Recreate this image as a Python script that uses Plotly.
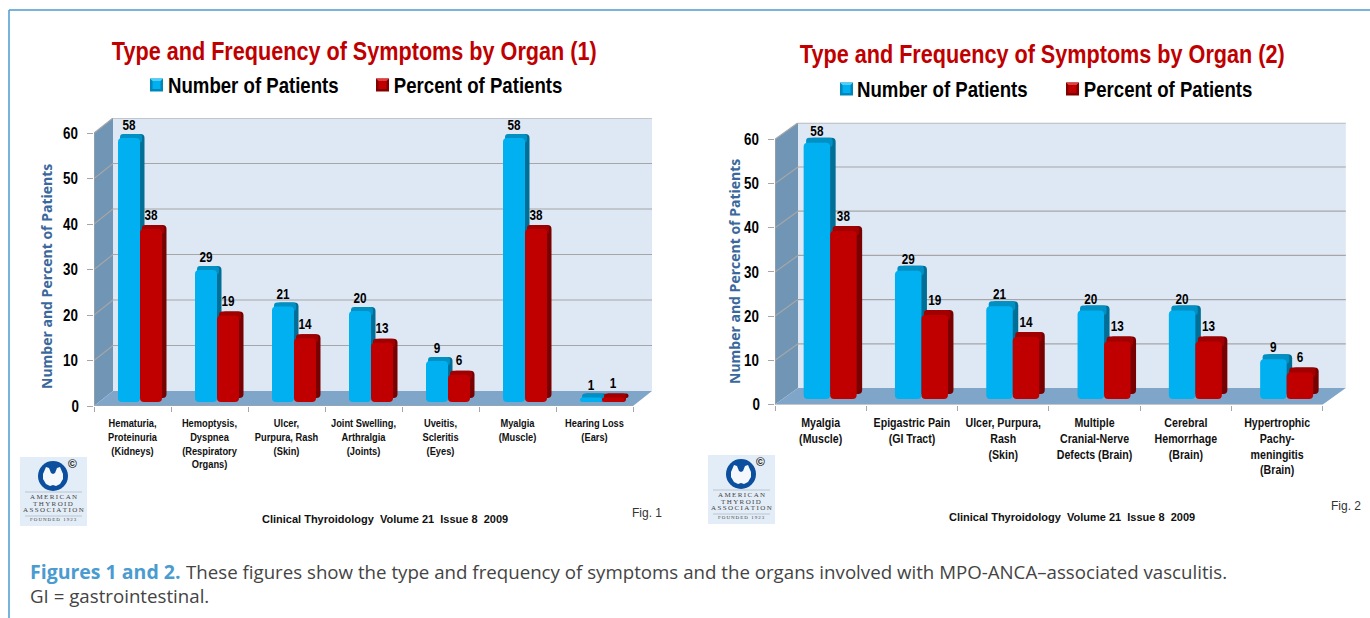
import plotly.graph_objects as go

W = 1370
H = 618

NARROW = "Liberation Sans Narrow, Liberation Sans, Arial, sans-serif"
SANS = "Liberation Sans, Arial, sans-serif"
OPEN = "Open Sans, sans-serif"

categories_1 = ["Hematuria,<br>Proteinuria<br>(Kidneys)", "Hemoptysis,<br>Dyspnea<br>(Respiratory<br>Organs)",
                "Ulcer,<br>Purpura, Rash<br>(Skin)", "Joint Swelling,<br>Arthralgia<br>(Joints)",
                "Uveitis,<br>Scleritis<br>(Eyes)", "Myalgia<br>(Muscle)", "Hearing Loss<br>(Ears)"]
number_1 = [58, 29, 21, 20, 9, 58, 1]
percent_1 = [38, 19, 14, 13, 6, 38, 1]

categories_2 = ["Myalgia<br>(Muscle)", "Epigastric Pain<br>(GI Tract)", "Ulcer, Purpura,<br>Rash<br>(Skin)",
                "Multiple<br>Cranial-Nerve<br>Defects (Brain)", "Cerebral<br>Hemorrhage<br>(Brain)",
                "Hypertrophic<br>Pachy-<br>meningitis<br>(Brain)"]
number_2 = [58, 29, 21, 20, 20, 9]
percent_2 = [38, 19, 14, 13, 13, 6]

y_ticks = [0, 10, 20, 30, 40, 50, 60]

BLUE = "#00B0F0"
BLUE_SIDE = "#006F98"
BLUE_CAP = "#0090C4"
RED = "#C00000"
RED_SIDE = "#780000"
RED_CAP = "#A00000"
GRID = "#A6A6A6"

fig = go.Figure()
shapes = []
annotations = []


def px(x):
    return x / W


def py(y):
    return 1 - y / H


def note(x, y, text, size, color="black", family=NARROW, xanchor="center", yanchor="middle", angle=0):
    annotations.append(dict(xref="paper", yref="paper", x=px(x), y=py(y), text=text, showarrow=False,
                            xanchor=xanchor, yanchor=yanchor, textangle=angle, align="left",
                            font=dict(size=size, color=color, family=family)))


def draw_panel(suffix, cats, number, percent, left, cat_w, y0, unit, depth_x, depth_y, bar_w, bar_shift,
               bar_lift, side_x, side_y, label_size, label_drop):
    n = len(cats)
    xref = "x" + suffix
    yref = "y" + suffix
    dx = depth_x / cat_w
    dy = depth_y / unit
    base = bar_lift / unit
    w = bar_w / cat_w
    sx = side_x / cat_w
    sy = side_y / unit
    start = bar_shift / cat_w - w
    right = left + n * cat_w + depth_x + 3
    top = y0 - 60 * unit - depth_y
    xs = [i + 0.5 for i in range(n)]

    def poly(points, fill):
        path = "M " + " L ".join(f"{a},{b}" for a, b in points) + " Z"
        shapes.append(dict(type="path", path=path, xref=xref, yref=yref, fillcolor=fill,
                           line=dict(width=0), layer="below"))

    def seg(a, b, c, d, color=GRID, width=1.2):
        shapes.append(dict(type="line", x0=a, y0=b, x1=c, y1=d, xref=xref, yref=yref,
                           line=dict(color=color, width=width), layer="below"))

    # back wall, side wall and floor
    poly([(dx, dy), (n + dx, dy), (n + dx, 60 + dy), (dx, 60 + dy)], "#DEE8F5")
    poly([(0, 0), (0, 60), (dx, 60 + dy), (dx, dy)], "#7095B5")
    poly([(0, 0), (n, 0), (n + dx, dy), (dx, dy)], "#7FA6C8")
    for t in y_ticks[1:]:
        seg(dx, t + dy, n + dx, t + dy)
        seg(0, t, dx, t + dy)
    seg(0, 0, n, 0)
    seg(0, 0, 0, 60)

    for values, start_x, front, side, cap, raise_by in [(number, start, BLUE, BLUE_SIDE, BLUE_CAP, -label_drop),
                                                        (percent, start + w, RED, RED_SIDE, RED_CAP, 0.4)]:
        common = dict(x=xs, width=w, xaxis=xref, yaxis=yref, showlegend=False, hoverinfo="skip")
        fig.add_trace(go.Bar(y=values, base=[base + sy] * n, offset=start_x + sx,
                             marker=dict(color=side, cornerradius=4, line=dict(width=0)), **common))
        fig.add_trace(go.Bar(y=[sy + 1.0] * n, base=[v + base - 1.0 for v in values], offset=start_x + sx * 0.45,
                             marker=dict(color=cap, cornerradius=3, line=dict(width=0)), **common))
        fig.add_trace(go.Bar(y=values, base=[base] * n, offset=start_x,
                             marker=dict(color=front, cornerradius=4, line=dict(width=0)), **common))
        fig.add_trace(go.Scatter(x=[a + start_x + w / 2 for a in xs], y=[v + base + sy + raise_by for v in values],
                                 text=[str(v) for v in values], mode="text", textposition="top center",
                                 textfont=dict(size=14.5, color="black", family=NARROW, weight="bold"),
                                 xaxis=xref, yaxis=yref, showlegend=False, hoverinfo="skip", cliponaxis=False))

    fig.update_layout({
        "xaxis" + suffix: dict(domain=[px(left), px(right)], range=[0, (right - left) / cat_w], tickmode="array",
                               tickvals=xs, ticktext=cats, ticks="", ticklabelstandoff=10, showgrid=False,
                               zeroline=False, tickangle=0, automargin=False,
                               tickfont=dict(size=label_size, color="#111111", family=NARROW, weight="bold"),
                               minor=dict(tickmode="array", tickvals=list(range(n + 1)), ticks="outside",
                                          ticklen=5, tickcolor=GRID, showgrid=False),
                               anchor=yref),
        "yaxis" + suffix: dict(domain=[py(y0), py(top)], range=[0, (y0 - top) / unit], tickmode="array",
                               tickvals=y_ticks, ticks="outside", ticklen=6, tickcolor=GRID, showgrid=False,
                               zeroline=False, showline=False, ticklabelstandoff=4, automargin=False,
                               tickfont=dict(size=16.5, color="black", family=NARROW, weight="bold"), anchor=xref),
    })


def legend_swatch(x, y, color, dark, light):
    shapes.append(dict(type="rect", xref="paper", yref="paper", x0=px(x), x1=px(x + 13), y0=py(y + 6.5), y1=py(y - 6.5),
                       fillcolor=dark, line=dict(width=0)))
    shapes.append(dict(type="rect", xref="paper", yref="paper", x0=px(x + 2.5), x1=px(x + 10.5), y0=py(y + 4),
                       y1=py(y - 4), fillcolor=color, line=dict(width=0)))
    shapes.append(dict(type="path", xref="paper", yref="paper", fillcolor=light, line=dict(width=0),
                       path=f"M {px(x)},{py(y - 6.5)} L {px(x + 13)},{py(y - 6.5)} L {px(x + 10.5)},{py(y - 4)} "
                            f"L {px(x + 2.5)},{py(y - 4)} Z"))


def draw_logo(x, y):
    # small society badge under each chart, built from vector pieces
    shapes.append(dict(type="rect", xref="paper", yref="paper", x0=px(x), x1=px(x + 67), y0=py(y + 69), y1=py(y),
                       fillcolor="#E3EDF7", line=dict(width=0), layer="below"))
    cx = x + 33
    cy = y + 19
    shapes.append(dict(type="circle", xref="paper", yref="paper", x0=px(cx - 15), x1=px(cx + 15), y0=py(cy + 15),
                       y1=py(cy - 15), fillcolor="#0B4F9E", line=dict(width=0)))
    outline = [(-7, -9), (-4, -8), (-2, -3), (0, -2), (2, -3), (4, -8), (7, -9), (10, -2), (10, 3), (7, 8),
               (3, 10), (0, 9), (-3, 10), (-7, 8), (-10, 3), (-10, -2)]
    path = "M " + " L ".join(f"{px(cx + a)},{py(cy + b)}" for a, b in outline) + " Z"
    shapes.append(dict(type="path", xref="paper", yref="paper", path=path, fillcolor="#F4F7FB", line=dict(width=0)))
    for ly in (35, 59):
        shapes.append(dict(type="line", xref="paper", yref="paper", x0=px(x + 5), x1=px(x + 62), y0=py(y + ly),
                           y1=py(y + ly), line=dict(color="#AAB4BE", width=0.7)))
    serif = "Liberation Serif, serif"
    note(cx, y + 40, "\u2009".join("AMERICAN"), 7, "#444444", serif)
    note(cx, y + 46.5, "\u2009".join("THYROID"), 7, "#444444", serif)
    note(cx, y + 53, "\u2009".join("ASSOCIATION"), 7, "#444444", serif)
    note(cx, y + 62, "\u2009".join("FOUNDED 1923"), 5, "#444444", serif)
    note(x + 52, y + 6.5, "<b>©</b>", 12, "#222222", SANS)


# page frame
shapes.append(dict(type="line", xref="paper", yref="paper", x0=px(9), x1=px(W), y0=py(10), y1=py(10),
                   line=dict(color="#4A9BD0", width=1.5)))
shapes.append(dict(type="line", xref="paper", yref="paper", x0=px(9), x1=px(9), y0=py(10), y1=py(H),
                   line=dict(color="#4A9BD0", width=1.5)))

draw_panel("", categories_1, number_1, percent_1, left=94, cat_w=77, y0=406, unit=4.55, depth_x=19, depth_y=15,
           bar_w=22, bar_shift=7.5, bar_lift=4, side_x=4.5, side_y=4, label_size=10.5, label_drop=0)
draw_panel("2", categories_2, number_2, percent_2, left=775, cat_w=91.3, y0=404.5, unit=4.42, depth_x=23, depth_y=16.5,
           bar_w=26.5, bar_shift=9.5, bar_lift=5.5, side_x=5.5, side_y=5, label_size=12, label_drop=0.4)

note(354, 51, "<b>Type and Frequency of Symptoms by Organ (1)</b>", 26.7, RED)
note(1042, 54, "<b>Type and Frequency of Symptoms by Organ (2)</b>", 26.7, RED)

legend_swatch(150, 85, BLUE, "#0086B8", "#50D0F8")
note(253, 85, "<b>Number of Patients</b>", 23)
legend_swatch(376, 85, RED, "#800000", "#E04040")
note(478, 85, "<b>Percent of Patients</b>", 23)
legend_swatch(840, 89, BLUE, "#0086B8", "#50D0F8")
note(943, 89, "<b>Number of Patients</b>", 23)
legend_swatch(1066, 89, RED, "#800000", "#E04040")
note(1168, 89, "<b>Percent of Patients</b>", 23)

note(47, 277, "<b>Number and Percent of Patients</b>", 14, "#3A689C", OPEN, angle=-90)
note(734, 272, "<b>Number and Percent of Patients</b>", 14, "#3A689C", OPEN, angle=-90)

note(385, 519, "<b>Clinical Thyroidology  Volume 21  Issue 8  2009</b>", 11, "#111111", SANS)
note(1072, 517, "<b>Clinical Thyroidology  Volume 21  Issue 8  2009</b>", 11, "#111111", SANS)
note(647, 513, "Fig. 1", 12, "#333333", SANS)
note(1346, 506, "Fig. 2", 12, "#333333", SANS)

draw_logo(20, 457)
draw_logo(708, 455)

note(28, 571, "<b>Figures 1 and 2.</b>", 19.5, "#4A9BD0", OPEN, xanchor="left")
note(184, 571, "These figures show the type and frequency of symptoms and the organs involved with "
               "MPO-ANCA–associated vasculitis.", 18.7, "#444444", OPEN, xanchor="left")
note(28, 595, "GI = gastrointestinal.", 18.7, "#444444", OPEN, xanchor="left")

fig.update_layout(
    width=W,
    height=H,
    barmode="overlay",
    margin=dict(l=0, r=0, t=0, b=0),
    paper_bgcolor="white",
    plot_bgcolor="rgba(0,0,0,0)",
    showlegend=False,
    shapes=shapes,
    annotations=annotations,
)

# no narrow face is installed, so squeeze the narrow-labelled text horizontally around its centre
squeeze = """
document.body.style.margin = '0';
document.body.style.overflow = 'hidden';
document.querySelectorAll('svg text').forEach(function (t) {
    if (!(t.style.fontFamily || '').includes('Narrow')) return;
    var k = /x\\d*tick/.test(t.parentNode.getAttribute('class') || '') ? 0.885 : 0.81;
    var b = t.getBBox();
    var c = b.x + b.width / 2;
    var old = t.getAttribute('transform') || '';
    t.setAttribute('transform', old + ' translate(' + c + ' 0) scale(' + k + ' 1) translate(' + (-c) + ' 0)');
});
"""
fig.write_html("out.html", config=dict(displayModeBar=False), post_script=squeeze)
